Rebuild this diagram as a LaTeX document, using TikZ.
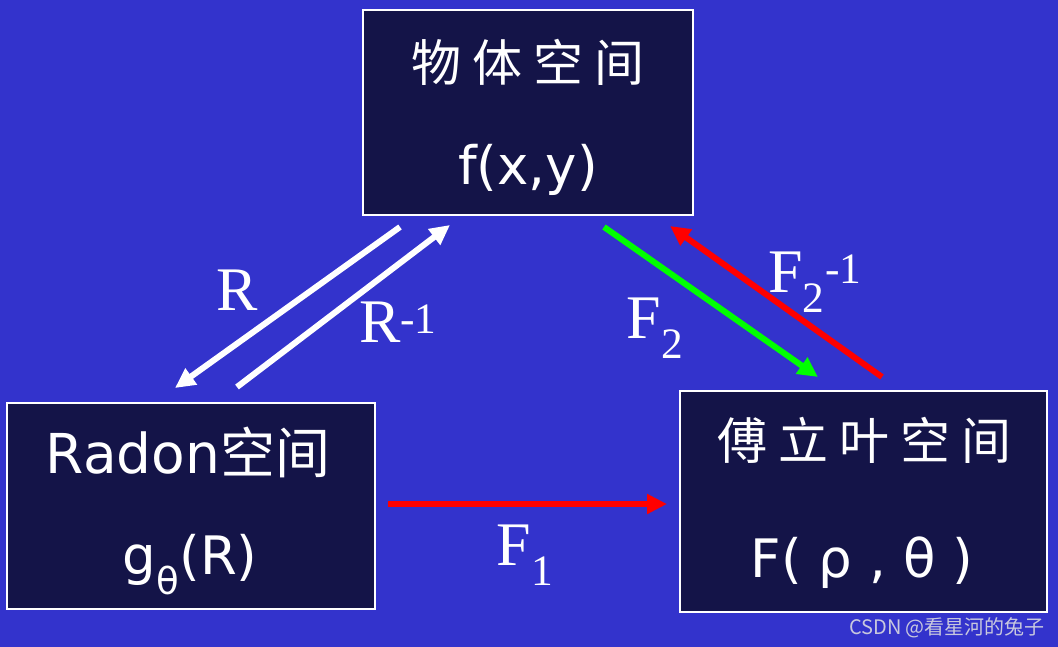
\documentclass[tikz,border=0pt]{standalone}
\usepackage{fontspec}
\setmainfont{Liberation Serif}
\newfontfamily\cjk{Noto Sans CJK SC}
\newfontfamily\cjkwide[LetterSpace=22]{Noto Sans CJK SC}
\newfontfamily\boxfont{DejaVu Sans}
\usepackage{tikz}
\usetikzlibrary{positioning,arrows.meta,calc}
\definecolor{bgblue}{RGB}{51,51,204}
\definecolor{boxnavy}{RGB}{20,20,72}
\definecolor{markgray}{RGB}{200,200,222}

\begin{document}
\begin{tikzpicture}[x=1pt,y=-1pt,
  space/.style={draw=white,line width=2.5pt,fill=boxnavy,inner sep=0pt},
  head/.style={text=white,inner sep=0pt,font=\cjkwide\fontsize{50}{60}\selectfont},
  formula/.style={text=white,inner sep=0pt,font=\boxfont\fontsize{53}{60}\selectfont},
  maplabel/.style={text=white,inner sep=0pt,font=\fontsize{62}{70}\selectfont},
  map/.style={line width=6pt,-{Triangle[length=20pt,width=19pt]}}]
\useasboundingbox (0,0) rectangle (1058,647);
\fill[bgblue] (0,0) rectangle (1058,647);
% the three spaces
\node[space,minimum width=330pt,minimum height=205pt] (obj) at (528,112.5) {};
\node[space,minimum width=368pt,minimum height=206pt] (radon) at (191,506) {};
\node[space,minimum width=367pt,minimum height=221pt] (fourier) at (863.5,501.5) {};
\node[head] (objname) at (528,62) {物体空间};
\node[formula] (objfun) at (528,170) {f(x,y)};
\node[text=white,inner sep=0pt,font=\cjk\fontsize{55}{60}\selectfont] (radonname) at (188,452)
  {{\boxfont Radon}空间};
\node[formula] (radonfun) at (190,565) {g\textsubscript{θ}(R)};
\node[head] (fouriername) at (864,440) {傅立叶空间};
\node[formula] (fourierfun) at (862,563) {F( ρ , θ )};
% transforms
\coordinate (rfrom) at (400,227);
\coordinate (rto) at (175,388);
\coordinate (rinvfrom) at (237,387);
\coordinate (rinvto) at (450,225);
\coordinate (ftwofrom) at (604,227);
\coordinate (ftwoto) at (818,377);
\coordinate (finvfrom) at (882,377);
\coordinate (finvto) at (670,226);
\coordinate (fonefrom) at (388,504);
\coordinate (foneto) at (667,504);
\draw[map,white] (rfrom) -- (rto);
\draw[map,white] (rinvfrom) -- (rinvto);
\draw[map,green] (ftwofrom) -- (ftwoto);
\draw[map,red] (finvfrom) -- (finvto);
\draw[map,red] (fonefrom) -- (foneto);
\node[maplabel] (rlabel) at (237,290) {R};
\node[maplabel] (rinvlabel) at (398,322) {R\textsuperscript{-1}};
\node[maplabel] (ftwolabel) at (655,328) {F\textsubscript{2}};
\node[maplabel] (finvlabel) at (815,282) {F\textsubscript{2}\textsuperscript{-1}};
\node[maplabel] (fonelabel) at (525,555) {F\textsubscript{1}};
% watermark
\node[text=markgray,inner sep=0pt,font=\cjk\fontsize{20}{24}\selectfont] (mark) at (947,628)
  {CSDN @看星河的兔子};
\end{tikzpicture}
\end{document}
